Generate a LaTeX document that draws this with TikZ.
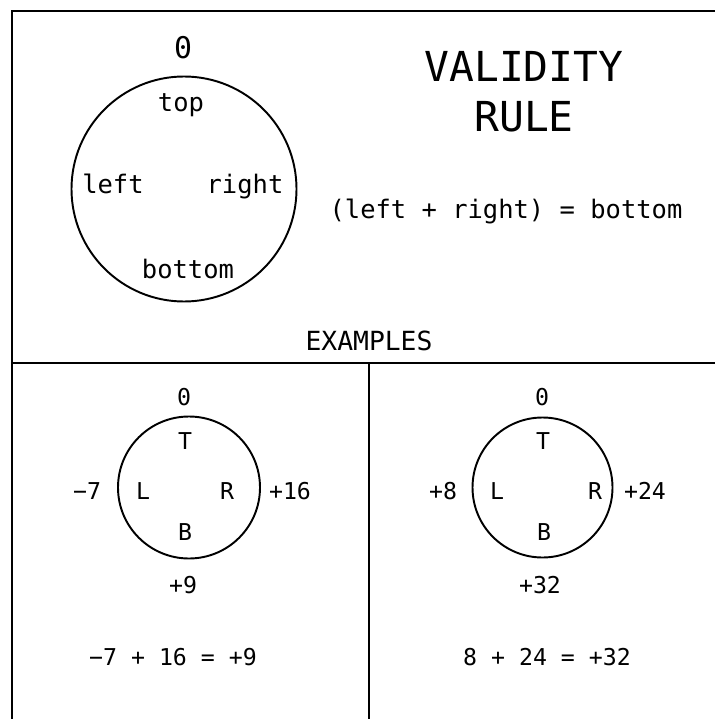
\documentclass[tikz,border=0pt]{standalone}
\usepackage{fontspec}
\setmainfont{DejaVu Sans Mono}
\usepackage{tikz}

\begin{document}
\begin{tikzpicture}[
    frame/.style={line width=1.1pt, black},
    ring/.style={circle, draw, line width=1.1pt, inner sep=0pt},
    word/.style={anchor=base, inner sep=0pt, font=\fontsize{14.5}{17}\selectfont},
    tag/.style={anchor=base, inner sep=0pt, font=\fontsize{13.2}{15}\selectfont},
    title/.style={anchor=base, inner sep=0pt, font=\fontsize{23.5}{27}\selectfont},
]
\useasboundingbox (0,0) rectangle (14.3,-14.38);

%% -- frame -------------------------------------------------------------
\draw[frame] (14.3,-0.22) -- (0.24,-0.22) -- (0.24,-14.38);
\draw[frame] (0.24,-7.26) -- (14.3,-7.26);
\draw[frame] (7.38,-7.26) -- (7.38,-14.38);

%% -- validity rule ----------------------------------------------------
\node[ring, minimum size=4.5cm] (bigC) at (3.68,-3.78) {};
\node[title, font=\fontsize{17}{20}\selectfont] (bigZero) at (3.66,-1.18) {0};
\node[word] (bigTop)    at (3.62,-2.24) {top};
\node[word] (bigLeft)   at (2.26,-3.86) {left};
\node[word] (bigRight)  at (4.90,-3.86) {right};
\node[word] (bigBottom) at (3.76,-5.56) {bottom};

\node[title] (ttlA) at (10.48,-1.64) {VALIDITY};
\node[title] (ttlB) at (10.48,-2.64) {RULE};
\node[word]  (ruleEq) at (10.12,-4.36) {(left + right) = bottom};

\node[word, font=\fontsize{15}{18}\selectfont] (exTitle) at (7.38,-7.00) {EXAMPLES};

%% -- example 1 --------------------------------------------------------
\node[ring, minimum size=2.84cm] (exC1) at (3.78,-9.75) {};
\node[tag] (e1Zero) at (3.68,-8.10)  {0};
\node[tag] (e1T)    at (3.70,-8.98)  {T};
\node[tag] (e1L)    at (2.86,-9.98)  {L};
\node[tag] (e1R)    at (4.54,-9.98)  {R};
\node[tag] (e1B)    at (3.70,-10.80) {B};
\node[tag] (e1Lv)   at (1.74,-9.98)  {−7};
\node[tag] (e1Rv)   at (5.80,-9.98)  {+16};
\node[tag] (e1Bv)   at (3.66,-11.86) {+9};
\node[tag] (e1Eq)   at (3.46,-13.30) {−7 + 16 = +9};

%% -- example 2 --------------------------------------------------------
\node[ring, minimum size=2.80cm] (exC2) at (10.85,-9.75) {};
\node[tag] (e2Zero) at (10.84,-8.10)  {0};
\node[tag] (e2T)    at (10.86,-8.98)  {T};
\node[tag] (e2L)    at (9.94,-9.98)   {L};
\node[tag] (e2R)    at (11.90,-9.98)  {R};
\node[tag] (e2B)    at (10.88,-10.80) {B};
\node[tag] (e2Lv)   at (8.86,-9.98)   {+8};
\node[tag] (e2Rv)   at (12.90,-9.98)  {+24};
\node[tag] (e2Bv)   at (10.80,-11.86) {+32};
\node[tag] (e2Eq)   at (10.94,-13.30) {8 + 24 = +32};

\end{tikzpicture}
\end{document}
